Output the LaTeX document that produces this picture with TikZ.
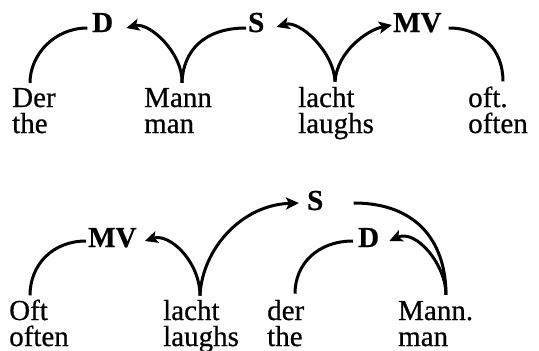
\documentclass[tikz,border=0pt]{standalone}
\usepackage{fontspec}
\setmainfont{Liberation Serif}[FakeBold=0.6]
\usetikzlibrary{arrows.meta,calc}
\begin{document}
\begin{tikzpicture}[x=1pt,y=-1pt,
  word/.style={inner sep=0pt,anchor=base west,align=left,font=\fontsize{29}{26}\selectfont},
  lab/.style={inner sep=0pt,anchor=base west,font=\fontsize{29}{29}\selectfont\bfseries},
  link/.style={line width=3pt},
  arr/.style={line width=3pt,-{Stealth[length=13pt,width=12pt,inset=3pt]}}]
\useasboundingbox (0,0) rectangle (539,351);
% sentence 1
\node[word] (Der1) at (12,133) {Der\\the};
\node[word] (Mann1) at (144,133) {Mann\\man};
\node[word] (lacht1) at (298,133) {lacht\\laughs};
\node[word] (oft1) at (468,133) {oft.\\often};
\node[lab] (D1) at (92,32) {D};
\node[lab] (S1) at (248,32) {S};
\node[lab] (MV1) at (393,32) {MV};
\coordinate (fDer1) at ($(Der1.north west)+(18,-5)$);
\coordinate (fMann1) at ($(Mann1.north west)+(38,-5)$);
\coordinate (flacht1) at ($(lacht1.north west)+(37,-5)$);
\coordinate (foft1) at ($(oft1.north west)+(35,-5)$);
\draw[link] (fDer1) .. controls +(0,-28) and +(-33,0) .. ($(D1.base east)+(-26,-4)$);
\draw[arr] (fMann1) .. controls +(1,-30) and +(23,-6) .. ($(D1.base east)+(13,-4)$);
\draw[link] (fMann1) .. controls +(1,-32) and +(-42,0) .. ($(S1.base west)+(-2,-4)$);
\draw[arr] (flacht1) .. controls +(-1,-30) and +(23,-7) .. ($(S1.base east)+(12,-5)$);
\draw[arr] (flacht1) .. controls +(2,-30) and +(-25,5) .. ($(MV1.base west)+(-1,-7)$);
\draw[link] (foft1) .. controls +(0,-32) and +(33,0) .. ($(MV1.base east)+(7,-4)$);
% sentence 2
\node[word] (Oft2) at (9,346) {Oft\\often};
\node[word] (lacht2) at (163,346) {lacht\\laughs};
\node[word] (der2) at (267,346) {der\\the};
\node[word] (Mann2) at (398,346) {Mann.\\man};
\node[lab] (MV2) at (88,247) {MV};
\node[lab] (S2) at (307,210) {S};
\node[lab] (D2) at (358,247) {D};
\coordinate (fOft2) at ($(Oft2.north west)+(21,-4)$);
\coordinate (flacht2) at ($(lacht2.north west)+(37,-4)$);
\coordinate (fder2) at ($(der2.north west)+(28,-6)$);
\coordinate (fMann2) at ($(Mann2.north west)+(48,-6)$);
\draw[link] (fOft2) .. controls +(0,-31) and +(-33,0) .. ($(MV2.base west)+(-2,-6)$);
\draw[arr] (flacht2) .. controls +(0,-34) and +(25,-8) .. ($(MV2.base east)+(8,-6)$);
\draw[arr] (flacht2) .. controls +(2,-46) and +(-58,2) .. ($(S2.base west)+(-8,-7)$);
\draw[link] (fder2) .. controls +(0,-30) and +(-35,0) .. ($(D2.base west)+(-5,-6)$);
\draw[arr] (fMann2) .. controls +(0,-30) and +(27,-12) .. ($(D2.base east)+(10,-6)$);
\draw[link] (fMann2) .. controls +(0,-49) and +(67,0) .. ($(S2.base east)+(30,-7)$);
\end{tikzpicture}
\end{document}
